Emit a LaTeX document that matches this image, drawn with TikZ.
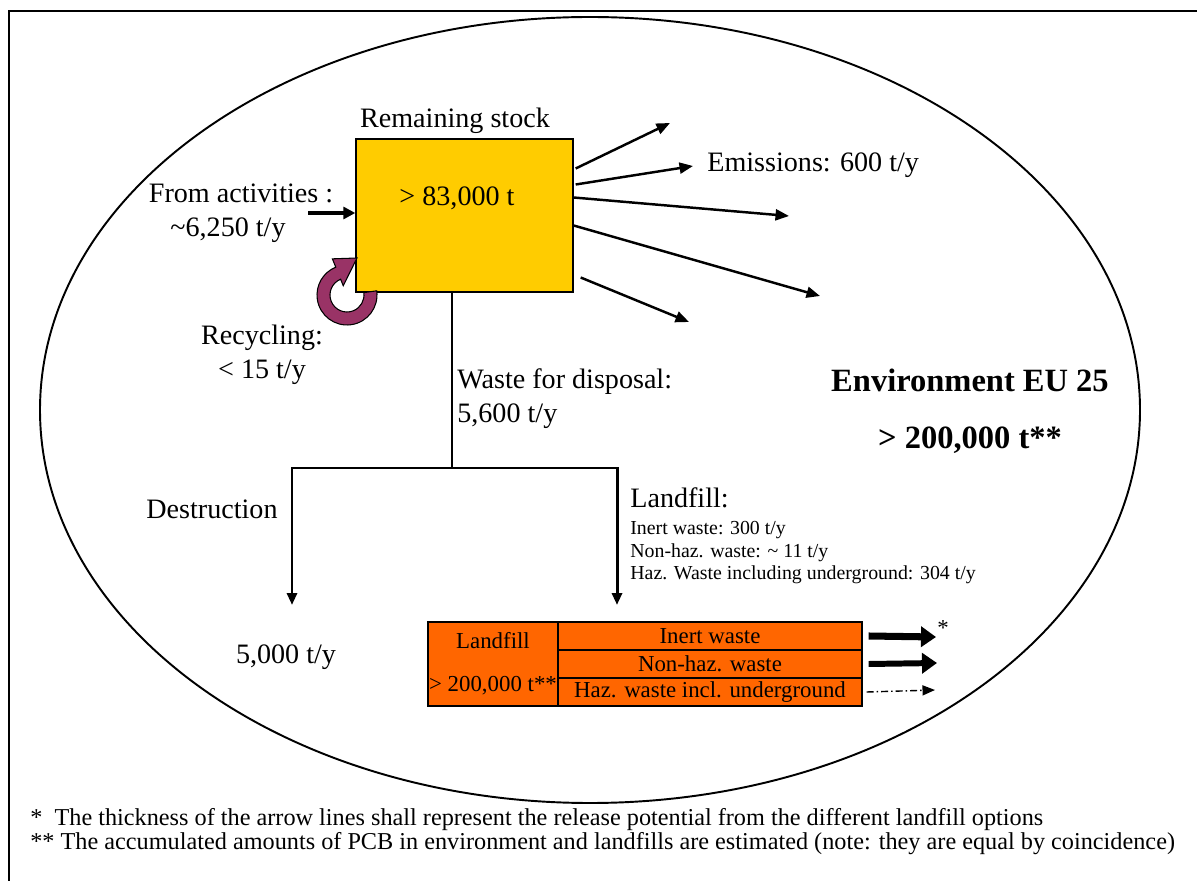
\documentclass[tikz,border=0pt]{standalone}
\usepackage{fontspec}
\setmainfont{Liberation Serif}
\usetikzlibrary{arrows.meta}

\definecolor{stockyellow}{HTML}{FFCC00}
\definecolor{lforange}{HTML}{FF6600}
\definecolor{recycpurple}{HTML}{993366}

\begin{document}
\begin{tikzpicture}[
    x=0.02cm, y=-0.02cm,
    txt/.style={inner sep=0pt, font=\fontsize{16}{19.3}\selectfont},
    small/.style={inner sep=0pt, align=left, font=\fontsize{11.3}{12.8}\selectfont},
    big/.style={inner sep=0pt, align=center, font=\fontsize{18.5}{32.4}\selectfont\bfseries},
    note/.style={inner sep=0pt, align=left, font=\fontsize{13.8}{13.6}\selectfont},
    stockbox/.style={rectangle, draw=black, thick, fill=stockyellow, minimum width=4.34cm, minimum height=3.06cm, inner sep=0pt},
    lfbox/.style={rectangle, draw=black, thick, fill=lforange, inner sep=0pt, font=\fontsize{13}{16}\selectfont},
    emis/.style={draw, line width=1.4pt, -{Triangle[length=0.27cm, width=0.22cm]}},
    waste/.style={draw, line width=1.7pt},
    release/.style={draw, -{Triangle[length=0.3cm, width=0.4cm]}}
]
    \useasboundingbox (0,0) rectangle (1197,881);

    % Frame and environment ===========================
    \draw[line width=1.2pt] (9,881) -- (9,11) -- (1197,11);
    \draw[line width=1.1pt] (590,410) ellipse [x radius=550, y radius=393];

    % Stock ===========================
    \node[stockbox] (stock) at (464.5,215.5) {};
    \node[txt] (stockval) at (457,198) {> 83,000 t};
    \node[txt] (stocktitle) at (455,121) {Remaining stock};

    % Input and recycling ===========================
    \node[txt] (act1) at (241,193) {From activities :};
    \node[txt] (act2) at (228,230) {\textasciitilde6,250 t/y};
    \coordinate (actin) at (308,213);
    \draw[line width=2pt, -{Triangle[length=0.24cm, width=0.24cm]}] (actin) -- (stock.west |- actin);

    \coordinate (R) at (347,295);
    \coordinate (rtip) at (357,258);
    \filldraw[fill=recycpurple, draw=black, line width=0.6pt]
        ([shift={(-8:30)}]R) arc[start angle=-8, end angle=248, radius=30]
        -- ([shift={(248:39)}]R) -- (rtip) -- ([shift={(248:10)}]R)
        -- ([shift={(248:17)}]R) arc[start angle=248, end angle=-8, radius=17] -- cycle;
    \node[txt, align=center] (recyc) at (262,355) {Recycling:\\< 15 t/y};

    % Emissions ===========================
    \coordinate (em1) at (670,123);
    \coordinate (em2) at (693,166);
    \coordinate (em3) at (789,216);
    \coordinate (em4) at (820,296);
    \coordinate (em5) at (689,322);
    \draw[emis] ([shift={(2,-47)}]stock.east) -- (em1);
    \draw[emis] ([shift={(2,-31)}]stock.east) -- (em2);
    \draw[emis] ([shift={(0,-18)}]stock.east) -- (em3);
    \draw[emis] ([shift={(0,10)}]stock.east) -- (em4);
    \draw[emis] ([shift={(7,62)}]stock.east) -- (em5);
    \node[txt, anchor=west] (emitxt) at (707,165) {Emissions: 600 t/y};

    % Waste for disposal ===========================
    \coordinate (split) at (452,468);
    \coordinate (dleft) at (292,468);
    \coordinate (dright) at (617,468);
    \coordinate (destend) at (292,605);
    \coordinate (lfend) at (617,605);
    \draw[waste] (stock.south -| split) -- (split);
    \draw[waste, {Triangle[length=0.24cm, width=0.2cm]}-{Triangle[length=0.24cm, width=0.2cm]}]
        (destend) -- (dleft) -- (dright) -- (lfend);
    \node[txt, anchor=west, align=left] (wastetxt) at (457,399) {Waste for disposal:\\5,600 t/y};

    \node[txt] (destr) at (212,509) {Destruction};
    \node[txt] (destamt) at (286,657) {5,000 t/y};

    \node[txt, anchor=west] (lfhead) at (630,498) {Landfill:};
    \node[small, anchor=west] (lflist) at (630,553) {Inert waste: 300 t/y\\Non-haz. waste: \textasciitilde{} 11 t/y\\Haz. Waste including underground: 304 t/y};

    % Environment ===========================
    \node[big] (env) at (970,411) {Environment EU 25\\> 200,000 t**};

    % Landfill table ===========================
    \node[lfbox, minimum width=2.6cm, minimum height=1.68cm, align=center] (lfleft) at (493,664) {Landfill\\[8.5pt]> 200,000 t**};
    \node[lfbox, minimum width=6.08cm, minimum height=0.56cm] (lfinert) at (710,636) {Inert waste};
    \node[lfbox, minimum width=6.08cm, minimum height=0.56cm] (lfnonhaz) at (710,664) {Non-haz. waste};
    \node[lfbox, minimum width=6.08cm, minimum height=0.56cm] (lfhaz) at (710,692) {Haz. waste incl. underground};

    \coordinate (rel1) at (936,637);
    \coordinate (rel2) at (937,663);
    \coordinate (rel3) at (935,690);
    \draw[release, line width=4pt] ([xshift=0.12cm]lfinert.east) -- (rel1);
    \draw[release, line width=3.4pt] ([xshift=0.12cm]lfnonhaz.east) -- (rel2);
    \draw[line width=0.8pt, dash pattern=on 0.14cm off 0.06cm on 0.03cm off 0.06cm, -{Triangle[length=0.25cm, width=0.2cm]}] ([xshift=0.08cm]lfhaz.east) -- (rel3);
    \node[inner sep=0pt, font=\fontsize{13}{15}\selectfont] (star) at (943,628) {*};

    % Notes ===========================
    \node[note, anchor=west] (notes) at (30,832) {*\hspace{0.5em}The thickness of the arrow lines shall represent the release potential from the different landfill options\\** The accumulated amounts of PCB in environment and landfills are estimated (note: they are equal by coincidence)};

\end{tikzpicture}
\end{document}
